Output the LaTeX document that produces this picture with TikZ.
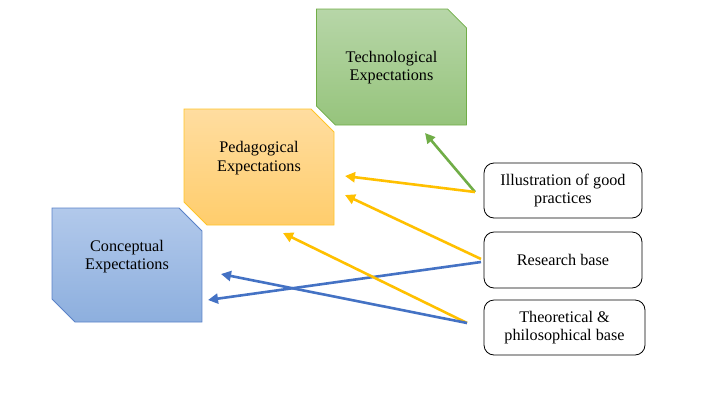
\documentclass[tikz,border=0pt]{standalone}
\usepackage{fontspec}
\setmainfont{Liberation Serif}
\usetikzlibrary{shapes.misc,arrows.meta}
\definecolor{techtop}{RGB}{183,214,168}
\definecolor{techbot}{RGB}{150,196,124}
\definecolor{techline}{RGB}{112,173,71}
\definecolor{pedtop}{RGB}{255,221,160}
\definecolor{pedbot}{RGB}{255,205,108}
\definecolor{pedline}{RGB}{255,196,40}
\definecolor{contop}{RGB}{178,201,235}
\definecolor{conbot}{RGB}{141,175,222}
\definecolor{conline}{RGB}{90,130,200}
\definecolor{arrgreen}{RGB}{112,173,71}
\definecolor{arryellow}{RGB}{255,192,0}
\definecolor{arrblue}{RGB}{68,114,196}

\begin{document}
\begin{tikzpicture}[x=1pt,y=-1pt,
		font=\fontsize{16.2}{18.5}\selectfont,
		expbox/.style={chamfered rectangle,chamfered rectangle corners={north east,south west},
			chamfered rectangle xsep=20pt,chamfered rectangle angle=45,
			minimum width=150pt,minimum height=116pt,inner sep=0pt,align=center,line width=0.8pt},
		basebox/.style={draw,rounded corners=10pt,minimum width=158pt,minimum height=55pt,
			align=center,line width=0.8pt},
		arr/.style={line width=2.6pt,-{Triangle[length=10pt,width=10pt]}}]
			\useasboundingbox (0,0) rectangle (720,405);
			% expectation boxes
			\node[expbox,top color=techtop,bottom color=techbot,draw=techline,text depth=2pt] (tech) at (391.5,67) {Technological\\Expectations};
			\node[expbox,top color=pedtop,bottom color=pedbot,draw=pedline,text depth=21pt] (ped) at (259,167) {Pedagogical\\Expectations};
			\node[expbox,top color=contop,bottom color=conbot,draw=conline,minimum height=114pt,text depth=20pt] (con) at (127,265) {Conceptual\\Expectations};
			% bases
			\node[basebox] (ill) at (563,190.5) {Illustration of good\\practices};
			\node[basebox,minimum height=56pt] (res) at (563,260) {Research base};
			\node[basebox,minimum width=161pt] (theo) at (564.5,327.5) {Theoretical \&\\philosophical base};
			% arrow ends
			\coordinate (illout) at (475,192);
			\coordinate (resouty) at (481,259);
			\coordinate (resoutb) at (481,262);
			\coordinate (theoout) at (467,323);
			\coordinate (techin) at (425,133);
			\coordinate (pedina) at (345,176);
			\coordinate (pedinb) at (345,195);
			\coordinate (pedinc) at (283,233);
			\coordinate (conina) at (221,274);
			\coordinate (coninb) at (208,300);
			\draw[arr,arrgreen] (illout) -- (techin);
			\draw[arr,arryellow] (illout) -- (pedina);
			\draw[arr,arryellow] (resouty) -- (pedinb);
			\draw[arr,arrblue] (resoutb) -- (coninb);
			\draw[arr,arryellow] (theoout) -- (pedinc);
			\draw[arr,arrblue] (theoout) -- (conina);
		\end{tikzpicture}
\end{document}
